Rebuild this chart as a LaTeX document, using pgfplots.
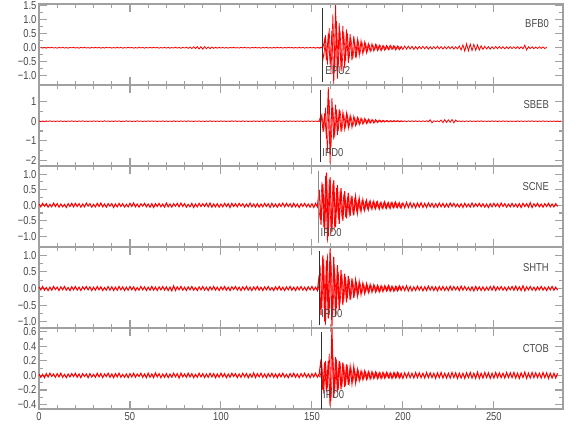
\documentclass[border=0pt]{standalone}
\usepackage{pgfplots}
\pgfplotsset{compat=1.18}
\usepackage{pgfplotstable}
\usepackage{fontspec}
\setmainfont{Liberation Sans}[FakeStretch=0.82]
\definecolor{framegray}{HTML}{A0A0A0}
\definecolor{labgray}{HTML}{484848}
\newcommand{\lf}{\fontsize{11.5}{12}\selectfont}

\pgfplotstableread[header=false,row sep=\\]{
0.010\\-0.014\\0.008\\-0.017\\0.013\\-0.006\\0.016\\-0.011\\0.005\\-0.015\\
0.012\\-0.009\\0.018\\-0.013\\0.007\\-0.016\\0.011\\-0.004\\0.015\\-0.012\\
0.009\\-0.017\\0.013\\-0.008\\0.016\\-0.012\\0.006\\-0.015\\0.011\\-0.010\\
0.014\\-0.007\\0.012\\-0.016\\0.009\\-0.013\\0.017\\-0.005\\0.010\\-0.014\\
0.008\\-0.012\\0.015\\-0.010\\0.013\\-0.017\\0.006\\-0.011\\0.016\\-0.009\\
0.011\\-0.015\\0.007\\-0.013\\0.017\\-0.008\\0.012\\-0.016\\0.009\\-0.011\\
0.015\\-0.010\\0.013\\-0.006\\0.011\\-0.017\\0.008\\-0.012\\0.016\\-0.014\\
0.012\\-0.018\\0.009\\-0.013\\0.020\\-0.015\\0.011\\-0.019\\0.014\\-0.012\\
0.018\\-0.022\\0.025\\-0.030\\0.035\\-0.028\\0.040\\-0.045\\0.038\\-0.050\\
0.042\\-0.036\\0.030\\-0.034\\0.026\\-0.022\\0.018\\-0.020\\0.015\\-0.013\\
0.011\\-0.014\\0.008\\-0.016\\0.012\\-0.007\\0.015\\-0.010\\0.006\\-0.013\\
0.013\\-0.009\\0.016\\-0.012\\0.008\\-0.015\\0.010\\-0.006\\0.014\\-0.011\\
0.009\\-0.016\\0.012\\-0.008\\0.015\\-0.013\\0.007\\-0.014\\0.011\\-0.010\\
0.013\\-0.008\\0.011\\-0.015\\0.010\\-0.012\\0.016\\-0.006\\0.009\\-0.013\\
0.010\\-0.014\\0.016\\-0.011\\0.013\\-0.017\\0.008\\-0.012\\0.015\\-0.010\\
0.012\\-0.016\\0.009\\-0.014\\0.018\\-0.012\\
0.30\\-0.45\\0.52\\-0.58\\0.62\\-1.30\\1.52\\-1.10\\0.88\\-0.82\\0.78\\-0.72\\0.65\\-0.55\\
0.48\\-0.45\\0.42\\-0.35\\0.30\\-0.28\\0.25\\-0.22\\0.20\\-0.18\\
0.15\\-0.13\\0.14\\-0.11\\0.12\\-0.10\\0.09\\-0.11\\0.08\\-0.09\\
0.08\\-0.07\\0.09\\-0.06\\0.07\\-0.08\\0.06\\-0.07\\0.05\\-0.06\\
0.06\\-0.05\\0.055\\-0.045\\0.05\\-0.06\\0.04\\-0.05\\0.045\\-0.04\\
0.05\\-0.04\\0.045\\-0.05\\0.035\\-0.045\\0.04\\-0.035\\0.05\\-0.04\\
0.04\\-0.045\\0.035\\-0.04\\0.045\\-0.035\\0.04\\-0.05\\0.035\\-0.04\\
0.06\\-0.08\\0.10\\-0.12\\0.14\\-0.11\\0.13\\-0.10\\0.12\\-0.09\\
0.10\\-0.08\\0.07\\-0.06\\0.05\\-0.045\\0.04\\-0.05\\0.035\\-0.04\\
0.045\\-0.035\\0.04\\-0.03\\0.035\\-0.04\\0.03\\-0.035\\0.04\\-0.03\\
0.035\\-0.03\\0.04\\-0.035\\0.03\\-0.04\\0.09\\-0.08\\0.035\\-0.03\\
0.03\\-0.035\\0.025\\-0.03\\0.035\\-0.025\\0.03\\-0.03\\0.02\\
}\tA
\pgfplotstableread[header=false,row sep=\\]{
0.01\\-0.015\\0.02\\-0.38\\0.45\\-0.62\\0.70\\-0.95\\1.20\\-0.90\\
0.95\\-0.70\\0.60\\-0.85\\0.55\\-0.48\\0.52\\-0.38\\0.33\\-0.40\\
0.25\\-0.30\\0.22\\-0.18\\0.20\\-0.15\\0.16\\-0.12\\0.10\\-0.12\\
0.09\\-0.08\\0.10\\-0.07\\0.08\\-0.06\\0.07\\-0.06\\0.05\\-0.06\\
0.055\\-0.05\\0.06\\-0.045\\0.05\\-0.04\\0.045\\
}\tAo

\pgfplotstableread[header=false,row sep=\\]{
0.015\\-0.018\\0.012\\-0.020\\0.016\\-0.010\\0.019\\-0.014\\0.011\\-0.017\\
0.014\\-0.012\\0.018\\-0.016\\0.010\\-0.019\\0.013\\-0.009\\0.017\\-0.015\\
0.012\\-0.020\\0.016\\-0.011\\0.019\\-0.014\\0.009\\-0.018\\0.013\\-0.012\\
0.017\\-0.010\\0.015\\-0.019\\0.012\\-0.016\\0.020\\-0.008\\0.013\\-0.017\\
0.011\\-0.015\\0.018\\-0.013\\0.016\\-0.020\\0.009\\-0.014\\0.019\\-0.012\\
0.014\\-0.018\\0.010\\-0.016\\0.020\\-0.011\\0.015\\-0.019\\0.012\\-0.014\\
0.018\\-0.013\\0.016\\-0.009\\0.014\\-0.020\\0.011\\-0.015\\0.019\\-0.017\\
0.015\\-0.019\\0.012\\-0.016\\0.018\\-0.014\\0.013\\-0.020\\0.017\\-0.011\\
0.016\\-0.014\\0.019\\-0.012\\0.011\\-0.018\\0.015\\-0.010\\0.017\\-0.016\\
0.013\\-0.017\\0.010\\-0.015\\0.019\\-0.012\\0.014\\-0.018\\0.011\\-0.013\\
0.017\\-0.011\\0.015\\-0.019\\0.012\\-0.014\\0.018\\-0.009\\0.016\\-0.015\\
0.012\\-0.016\\0.019\\-0.013\\0.014\\-0.018\\0.010\\-0.015\\0.017\\-0.012\\
0.015\\-0.019\\0.011\\-0.016\\0.018\\-0.010\\0.016\\-0.014\\0.012\\-0.017\\
0.019\\-0.012\\0.014\\-0.017\\0.010\\-0.015\\0.018\\-0.013\\0.016\\-0.011\\
0.013\\-0.018\\0.016\\-0.010\\0.015\\-0.019\\0.012\\-0.016\\0.018\\-0.014\\
0.014\\-0.017\\0.011\\-0.015\\0.019\\
0.30\\-0.42\\0.40\\-0.90\\1.75\\-2.15\\1.20\\-0.95\\0.85\\-0.70\\
0.62\\-0.55\\0.45\\-0.40\\0.42\\-0.35\\0.30\\-0.32\\0.25\\-0.22\\
0.20\\-0.18\\0.16\\-0.15\\0.14\\-0.12\\0.11\\-0.10\\0.09\\-0.10\\
0.08\\-0.07\\0.06\\-0.05\\0.05\\-0.045\\0.04\\-0.035\\0.03\\-0.035\\
0.03\\-0.025\\0.028\\-0.03\\0.025\\-0.022\\0.02\\-0.025\\0.022\\-0.02\\
0.02\\-0.018\\0.022\\-0.02\\0.018\\-0.02\\0.019\\-0.017\\0.021\\-0.019\\
0.07\\-0.08\\0.02\\-0.018\\0.02\\-0.03\\0.06\\-0.07\\0.08\\-0.06\\
0.07\\-0.05\\0.09\\-0.08\\0.06\\-0.02\\0.018\\-0.02\\0.016\\-0.019\\
0.018\\-0.015\\0.019\\-0.017\\0.014\\-0.018\\0.016\\-0.013\\0.019\\-0.016\\
0.015\\-0.018\\0.012\\-0.017\\0.019\\-0.014\\0.016\\-0.019\\0.013\\-0.015\\
0.018\\-0.012\\0.016\\-0.019\\0.014\\-0.016\\0.011\\-0.018\\0.017\\-0.013\\
0.016\\-0.019\\0.013\\-0.015\\0.018\\-0.012\\0.017\\-0.016\\0.014\\-0.018\\
0.012\\-0.016\\0.019\\-0.013\\0.015\\-0.017\\0.011\\-0.019\\0.016\\-0.014\\
0.013\\-0.017\\0.015\\
}\tB
\pgfplotstableread[header=false,row sep=\\]{
0.015\\-0.02\\0.35\\-0.55\\0.70\\-1.60\\1.10\\-1.30\\0.75\\-0.80\\
0.60\\-0.50\\0.55\\-0.45\\0.35\\-0.30\\0.32\\-0.25\\0.22\\-0.25\\
0.18\\-0.16\\0.15\\-0.13\\0.12\\-0.11\\0.10\\-0.09\\0.08\\-0.07\\
0.065\\-0.06\\0.05\\-0.045\\0.04\\-0.04\\0.035\\-0.03\\0.03\\-0.028\\
0.025\\-0.025\\0.022\\-0.02\\0.02\\-0.02\\0.018\\
}\tBo

\pgfplotstableread[header=false,row sep=\\]{
0.04\\-0.05\\0.06\\-0.03\\0.05\\-0.06\\0.03\\-0.05\\0.07\\-0.04\\
0.05\\-0.06\\0.04\\-0.05\\0.03\\-0.07\\0.05\\-0.04\\0.06\\-0.05\\
0.06\\-0.04\\0.05\\-0.06\\0.04\\-0.05\\0.07\\-0.03\\0.05\\-0.06\\
0.03\\-0.05\\0.06\\-0.04\\0.07\\-0.05\\0.04\\-0.06\\0.05\\-0.03\\
0.05\\-0.07\\0.04\\-0.05\\0.06\\-0.04\\0.05\\-0.06\\0.03\\-0.05\\
0.06\\-0.04\\0.07\\-0.05\\0.04\\-0.06\\0.05\\-0.03\\0.06\\-0.05\\
0.04\\-0.06\\0.05\\-0.07\\0.05\\-0.04\\0.06\\-0.05\\0.04\\-0.06\\
0.07\\-0.05\\0.04\\-0.06\\0.05\\-0.03\\0.06\\-0.05\\0.07\\-0.04\\
0.05\\-0.06\\0.03\\-0.05\\0.06\\-0.07\\0.04\\-0.05\\0.06\\-0.04\\
0.05\\-0.04\\0.06\\-0.05\\0.07\\-0.06\\0.04\\-0.05\\0.05\\-0.06\\
0.04\\-0.05\\0.06\\-0.04\\0.05\\-0.07\\0.06\\-0.04\\0.05\\-0.05\\
0.06\\-0.03\\0.05\\-0.06\\0.04\\-0.05\\0.07\\-0.05\\0.04\\-0.06\\
0.05\\-0.06\\0.04\\-0.05\\0.06\\-0.04\\0.05\\-0.07\\0.06\\-0.05\\
0.04\\-0.06\\0.05\\-0.04\\0.07\\-0.05\\0.06\\-0.04\\0.05\\-0.06\\
0.06\\-0.05\\0.04\\-0.07\\0.05\\-0.04\\0.06\\-0.05\\0.04\\-0.06\\
0.05\\-0.07\\0.06\\-0.05\\
0.50\\-0.62\\0.68\\-0.85\\1.05\\-1.00\\0.90\\-0.85\\0.80\\-0.70\\
0.65\\-0.60\\0.55\\-0.50\\0.45\\-0.42\\0.40\\-0.35\\0.30\\-0.32\\
0.28\\-0.25\\0.22\\-0.20\\0.18\\-0.16\\0.15\\-0.14\\0.13\\-0.12\\
0.12\\-0.11\\0.10\\-0.12\\0.09\\-0.10\\0.11\\-0.09\\0.08\\-0.10\\
0.09\\-0.08\\0.10\\-0.07\\0.08\\-0.09\\0.07\\-0.08\\0.09\\-0.07\\
0.08\\-0.07\\0.06\\-0.08\\0.07\\-0.06\\0.08\\-0.07\\0.06\\-0.07\\
0.07\\-0.05\\0.06\\-0.07\\0.05\\-0.06\\0.07\\-0.05\\0.06\\-0.06\\
0.05\\-0.06\\0.07\\-0.04\\0.06\\-0.05\\0.04\\-0.06\\0.05\\-0.07\\
0.06\\-0.05\\0.04\\-0.06\\0.07\\-0.05\\0.05\\-0.04\\0.06\\-0.05\\
0.05\\-0.06\\0.04\\-0.07\\0.05\\-0.05\\0.06\\-0.04\\0.05\\-0.06\\
0.07\\-0.04\\0.05\\-0.06\\0.04\\-0.05\\0.06\\-0.05\\0.04\\-0.06\\
0.05\\-0.07\\0.06\\-0.04\\0.05\\-0.06\\0.08\\-0.07\\0.05\\-0.04\\
0.06\\-0.05\\0.04\\-0.06\\0.05\\-0.04\\0.06\\-0.05\\0.04\\-0.05\\
0.05\\-0.04\\
}\tC
\pgfplotstableread[header=false,row sep=\\]{
0.05\\-0.45\\0.75\\-0.70\\0.95\\-1.20\\0.85\\-0.90\\0.70\\-0.75\\
0.55\\-0.45\\0.48\\-0.40\\0.35\\-0.38\\0.28\\-0.30\\0.25\\-0.22\\
0.20\\-0.18\\0.16\\-0.17\\0.14\\-0.13\\0.12\\-0.11\\0.12\\-0.10\\
0.10\\-0.09\\0.11\\-0.08\\0.09\\-0.10\\0.08\\-0.09\\0.07\\-0.08\\
0.09\\-0.07\\0.08\\-0.07\\0.06\\-0.08\\0.07\\
}\tCo

\pgfplotstableread[header=false,row sep=\\]{
0.05\\-0.04\\0.06\\-0.05\\0.03\\-0.06\\0.04\\-0.05\\0.06\\-0.03\\
0.04\\-0.06\\0.05\\-0.04\\0.06\\-0.05\\0.03\\-0.06\\0.05\\-0.04\\
0.06\\-0.05\\0.04\\-0.06\\0.05\\-0.03\\0.06\\-0.04\\0.05\\-0.06\\
0.04\\-0.05\\0.06\\-0.04\\0.05\\-0.06\\0.03\\-0.05\\0.06\\-0.05\\
0.05\\-0.06\\0.04\\-0.05\\0.06\\-0.04\\0.05\\-0.06\\0.04\\-0.05\\
0.06\\-0.04\\0.05\\-0.06\\0.03\\-0.05\\0.06\\-0.04\\0.05\\-0.06\\
0.04\\-0.05\\0.06\\-0.05\\0.04\\-0.06\\0.05\\-0.04\\0.06\\-0.05\\
0.05\\-0.06\\0.04\\-0.07\\0.08\\-0.06\\0.05\\-0.04\\0.06\\-0.05\\
0.04\\-0.06\\0.05\\-0.04\\0.06\\-0.05\\0.03\\-0.06\\0.05\\-0.04\\
0.06\\-0.05\\0.04\\-0.06\\0.05\\-0.04\\0.06\\-0.05\\0.04\\-0.06\\
0.05\\-0.04\\0.06\\-0.05\\0.04\\-0.06\\0.05\\-0.03\\0.06\\-0.05\\
0.04\\-0.06\\0.05\\-0.04\\0.06\\-0.05\\0.04\\-0.06\\0.05\\-0.04\\
0.06\\-0.05\\0.04\\-0.06\\0.05\\-0.04\\0.06\\-0.05\\0.03\\-0.06\\
0.05\\-0.04\\0.06\\-0.05\\0.04\\-0.06\\0.05\\-0.04\\0.06\\-0.05\\
0.04\\-0.06\\0.05\\-0.04\\0.06\\-0.05\\0.04\\-0.06\\0.05\\-0.04\\
0.06\\-0.05\\0.04\\-0.06\\
0.40\\-0.80\\1.00\\-1.00\\0.85\\-0.90\\1.20\\-1.15\\0.95\\-0.85\\
0.70\\-0.65\\0.55\\-0.50\\0.45\\-0.42\\0.38\\-0.35\\0.30\\-0.28\\
0.25\\-0.22\\0.20\\-0.18\\0.16\\-0.15\\0.14\\-0.12\\0.12\\-0.11\\
0.11\\-0.10\\0.09\\-0.10\\0.08\\-0.09\\0.08\\-0.07\\0.09\\-0.08\\
0.07\\-0.08\\0.06\\-0.07\\0.08\\-0.06\\0.07\\-0.06\\0.08\\-0.07\\
0.06\\-0.07\\0.05\\-0.06\\0.07\\-0.05\\0.06\\-0.07\\0.05\\-0.06\\
0.07\\-0.05\\0.06\\-0.06\\0.05\\-0.07\\0.06\\-0.05\\0.06\\-0.06\\
0.05\\-0.06\\0.07\\-0.05\\0.06\\-0.04\\0.05\\-0.06\\0.07\\-0.05\\
0.06\\-0.05\\0.04\\-0.06\\0.05\\-0.07\\0.06\\-0.05\\0.05\\-0.06\\
0.05\\-0.06\\0.04\\-0.05\\0.06\\-0.05\\0.07\\-0.06\\0.05\\-0.04\\
0.06\\-0.05\\0.04\\-0.06\\0.05\\-0.04\\0.06\\-0.05\\0.07\\-0.05\\
0.05\\-0.06\\0.08\\-0.07\\0.05\\-0.04\\0.06\\-0.05\\0.04\\-0.06\\
0.05\\-0.04\\0.06\\-0.05\\0.04\\-0.06\\0.05\\-0.04\\0.06\\-0.05\\
0.04\\-0.05\\
}\tD
\pgfplotstableread[header=false,row sep=\\]{
-0.05\\0.70\\-0.60\\0.90\\-1.10\\1.05\\-0.80\\0.85\\-0.75\\0.65\\
-0.60\\0.50\\-0.45\\0.42\\-0.38\\0.35\\-0.30\\0.28\\-0.25\\0.22\\
-0.20\\0.18\\-0.16\\0.15\\-0.13\\0.12\\-0.11\\0.10\\-0.10\\0.09\\
-0.08\\0.09\\-0.08\\0.07\\-0.08\\0.07\\-0.06\\0.07\\-0.06\\0.07\\
-0.06\\0.05\\-0.07\\0.06\\-0.05\\0.06\\-0.05\\
}\tDo

\pgfplotstableread[header=false,row sep=\\]{
0.02\\-0.025\\0.015\\-0.03\\0.025\\-0.02\\0.03\\-0.015\\0.02\\-0.025\\
0.025\\-0.02\\0.03\\-0.025\\0.015\\-0.03\\0.02\\-0.02\\0.025\\-0.015\\
0.03\\-0.025\\0.02\\-0.03\\0.025\\-0.015\\0.02\\-0.03\\0.025\\-0.02\\
0.015\\-0.025\\0.03\\-0.02\\0.025\\-0.03\\0.02\\-0.015\\0.03\\-0.025\\
0.02\\-0.03\\0.025\\-0.02\\0.03\\-0.025\\0.015\\-0.025\\0.02\\-0.03\\
0.025\\-0.02\\0.03\\-0.025\\0.02\\-0.015\\0.03\\-0.025\\0.02\\-0.03\\
0.03\\-0.025\\0.02\\-0.03\\0.035\\-0.02\\0.025\\-0.03\\0.02\\-0.025\\
0.025\\-0.03\\0.02\\-0.025\\0.03\\-0.02\\0.025\\-0.035\\0.03\\-0.02\\
0.02\\-0.025\\0.03\\-0.02\\0.025\\-0.03\\0.015\\-0.025\\0.03\\-0.02\\
0.025\\-0.03\\0.02\\-0.025\\0.03\\-0.02\\0.025\\-0.03\\0.02\\-0.025\\
0.03\\-0.02\\0.025\\-0.03\\0.02\\-0.025\\0.03\\-0.015\\0.025\\-0.03\\
0.02\\-0.025\\0.03\\-0.02\\0.025\\-0.03\\0.02\\-0.025\\0.035\\-0.03\\
0.025\\-0.02\\0.03\\-0.025\\0.02\\-0.03\\0.025\\-0.02\\0.03\\-0.025\\
0.02\\-0.03\\0.025\\-0.02\\0.03\\-0.025\\0.015\\-0.03\\0.025\\-0.02\\
0.03\\-0.025\\0.02\\-0.03\\0.025\\-0.02\\0.03\\-0.025\\0.02\\-0.03\\
0.025\\-0.02\\0.03\\-0.025\\0.02\\
0.22\\-0.20\\0.18\\-0.22\\0.20\\-0.42\\0.65\\-0.30\\0.25\\-0.22\\
0.20\\-0.19\\0.18\\-0.16\\0.15\\-0.13\\0.12\\-0.11\\0.12\\-0.10\\
0.08\\-0.07\\0.06\\-0.055\\0.06\\-0.05\\0.05\\-0.045\\0.05\\-0.04\\
0.045\\-0.04\\0.035\\-0.04\\0.04\\-0.035\\0.04\\-0.03\\0.035\\-0.04\\
0.035\\-0.03\\0.04\\-0.035\\0.03\\-0.04\\0.035\\-0.03\\0.035\\-0.03\\
0.03\\-0.035\\0.04\\-0.03\\0.035\\-0.03\\0.03\\-0.035\\0.04\\-0.03\\
0.035\\-0.03\\0.03\\-0.04\\0.035\\-0.03\\0.04\\-0.035\\0.03\\-0.035\\
0.03\\-0.035\\0.04\\-0.03\\0.035\\-0.04\\0.03\\-0.035\\0.03\\-0.04\\
0.035\\-0.03\\0.04\\-0.035\\0.03\\-0.04\\0.045\\-0.04\\0.03\\-0.035\\
0.04\\-0.03\\0.035\\-0.04\\0.03\\-0.035\\0.04\\-0.03\\0.035\\-0.03\\
0.03\\-0.035\\0.04\\-0.03\\0.035\\-0.03\\0.04\\-0.035\\0.03\\-0.04\\
0.035\\-0.03\\0.045\\-0.04\\0.03\\-0.035\\0.04\\-0.03\\0.035\\-0.03\\
0.03\\-0.035\\0.04\\-0.03\\0.035\\-0.04\\0.03\\-0.035\\0.03\\-0.035\\
0.03\\
}\tE
\pgfplotstableread[header=false,row sep=\\]{
0.02\\-0.025\\0.15\\-0.25\\0.20\\-0.18\\0.30\\-0.35\\0.28\\-0.25\\
0.22\\-0.20\\0.18\\-0.16\\0.15\\-0.14\\0.12\\-0.11\\0.10\\-0.09\\
0.08\\-0.07\\0.065\\-0.06\\0.055\\-0.05\\0.05\\-0.045\\0.04\\-0.045\\
0.04\\-0.035\\0.04\\-0.035\\0.035\\-0.04\\0.035\\-0.03\\0.035\\-0.035\\
0.03\\-0.035\\0.04\\-0.03\\0.035\\-0.03\\0.035\\
}\tEo

\pgfplotsset{
  seis/.style={
    scale only axis, width=524pt, height=81pt,
    anchor=south west,
    xmin=0, xmax=288,
    axis line style={draw=framegray, line width=1.4pt},
    xtick={0,50,100,150,200,250}, minor x tick num=4,
    xticklabels={},
    minor y tick num=1,
    tick align=inside,
    xtick pos=both, ytick pos=both,
    yticklabel pos=left,
    major tick length=8pt, minor tick length=4pt,
    every tick/.style={draw=framegray, line width=1.1pt},
    every minor tick/.style={draw=framegray, line width=1.1pt},
    tick label style={text=labgray, font=\lf},
    yticklabel style={xshift=1pt},
    clip=true,
  },
  trace/.style={red, line width=0.8pt},
  tracew/.style={red, line width=1.05pt},
  trace2/.style={red, line width=0.6pt},
  pick/.style={draw=black!80, line width=0.7pt},
}

\begin{document}
\begin{tikzpicture}
\useasboundingbox (0,0) rectangle (580pt,440pt);

% Panel 1: BFB0
\begin{axis}[seis, at={(39pt,355pt)}, ymin=-1.33, ymax=1.56,
  ytick={-1,-0.5,0,0.5,1,1.5},
  yticklabels={−1.0,−0.5,0.0,0.5,1.0,1.5}]
\addplot[trace] table[x expr=\coordindex+1, y index=0] {\tA};
\addplot[trace2] table[x expr=\coordindex+153.5, y index=0] {\tAo};
\addplot[pick] coordinates {(155.7,-1.22) (155.7,1.42)};
\node[anchor=base east, inner sep=0pt, text=labgray, font=\lf] at ([xshift=-14pt,yshift=-24pt]rel axis cs:1,1) {BFB0};
\node[anchor=base west, inner sep=0pt, text=labgray, font=\lf] at ([xshift=3pt,yshift=10pt]axis cs:155.7,-1.33) {EPU2};
\end{axis}

% Panel 2: SBEB
\begin{axis}[seis, at={(39pt,274pt)}, ymin=-2.3, ymax=1.86,
  ytick={-2,-1,0,1},
  yticklabels={−2,−1,0,1}]
\addplot[trace] table[x expr=\coordindex, y index=0] {\tB};
\addplot[trace2] table[x expr=\coordindex+153.5, y index=0] {\tBo};
\addplot[pick] coordinates {(154.6,-2.1) (154.6,1.61)};
\node[anchor=base east, inner sep=0pt, text=labgray, font=\lf] at ([xshift=-14pt,yshift=-24pt]rel axis cs:1,1) {SBEB};
\node[anchor=base west, inner sep=0pt, text=labgray, font=\lf] at ([xshift=2pt,yshift=10pt]axis cs:154.6,-2.3) {IPD0};
\end{axis}

% Panel 3: SCNE
\begin{axis}[seis, at={(39pt,193pt)}, ymin=-1.34, ymax=1.26,
  ytick={-1,-0.5,0,0.5,1},
  yticklabels={−1.0,−0.5,0.0,0.5,1.0}]
\addplot[tracew] table[x expr=\coordindex, y index=0] {\tC};
\addplot[trace2] table[x expr=\coordindex+153.5, y index=0] {\tCo};
\addplot[draw=black!45, line width=1.1pt] coordinates {(153.6,-1.21) (153.6,1.09)};
\node[anchor=base east, inner sep=0pt, text=labgray, font=\lf] at ([xshift=-14pt,yshift=-24pt]rel axis cs:1,1) {SCNE};
\node[anchor=base west, inner sep=0pt, text=labgray, font=\lf] at ([xshift=2pt,yshift=11pt]axis cs:153.6,-1.34) {IPD0};
\end{axis}

% Panel 4: SHTH
\begin{axis}[seis, at={(39pt,112pt)}, ymin=-1.19, ymax=1.25,
  ytick={-1,-0.5,0,0.5,1},
  yticklabels={−1.0,−0.5,0.0,0.5,1.0}]
\addplot[tracew] table[x expr=\coordindex, y index=0] {\tD};
\addplot[trace2] table[x expr=\coordindex+153.5, y index=0] {\tDo};
\addplot[pick] coordinates {(154.0,-1.10) (154.0,1.13)};
\node[anchor=base east, inner sep=0pt, text=labgray, font=\lf] at ([xshift=-14pt,yshift=-24pt]rel axis cs:1,1) {SHTH};
\node[anchor=base west, inner sep=0pt, text=labgray, font=\lf] at ([xshift=2pt,yshift=11pt]axis cs:154.0,-1.19) {IPD0};
\end{axis}

% Panel 5: CTOB
\begin{axis}[seis, at={(39pt,31pt)}, ymin=-0.46, ymax=0.65,
  ytick={-0.4,-0.2,0,0.2,0.4,0.6},
  yticklabels={−0.4,−0.2,0.0,0.2,0.4,0.6},
  xticklabels={0,50,100,150,200,250}]
\addplot[tracew] table[x expr=\coordindex, y index=0] {\tE};
\addplot[trace2] table[x expr=\coordindex+153.5, y index=0] {\tEo};
\addplot[pick] coordinates {(155.0,-0.46) (155.0,0.59)};
\node[anchor=base east, inner sep=0pt, text=labgray, font=\lf] at ([xshift=-14pt,yshift=-24pt]rel axis cs:1,1) {CTOB};
\node[anchor=base west, inner sep=0pt, text=labgray, font=\lf] at ([xshift=2pt,yshift=11pt]axis cs:155.0,-0.46) {IPD0};
\end{axis}
\end{tikzpicture}
\end{document}
